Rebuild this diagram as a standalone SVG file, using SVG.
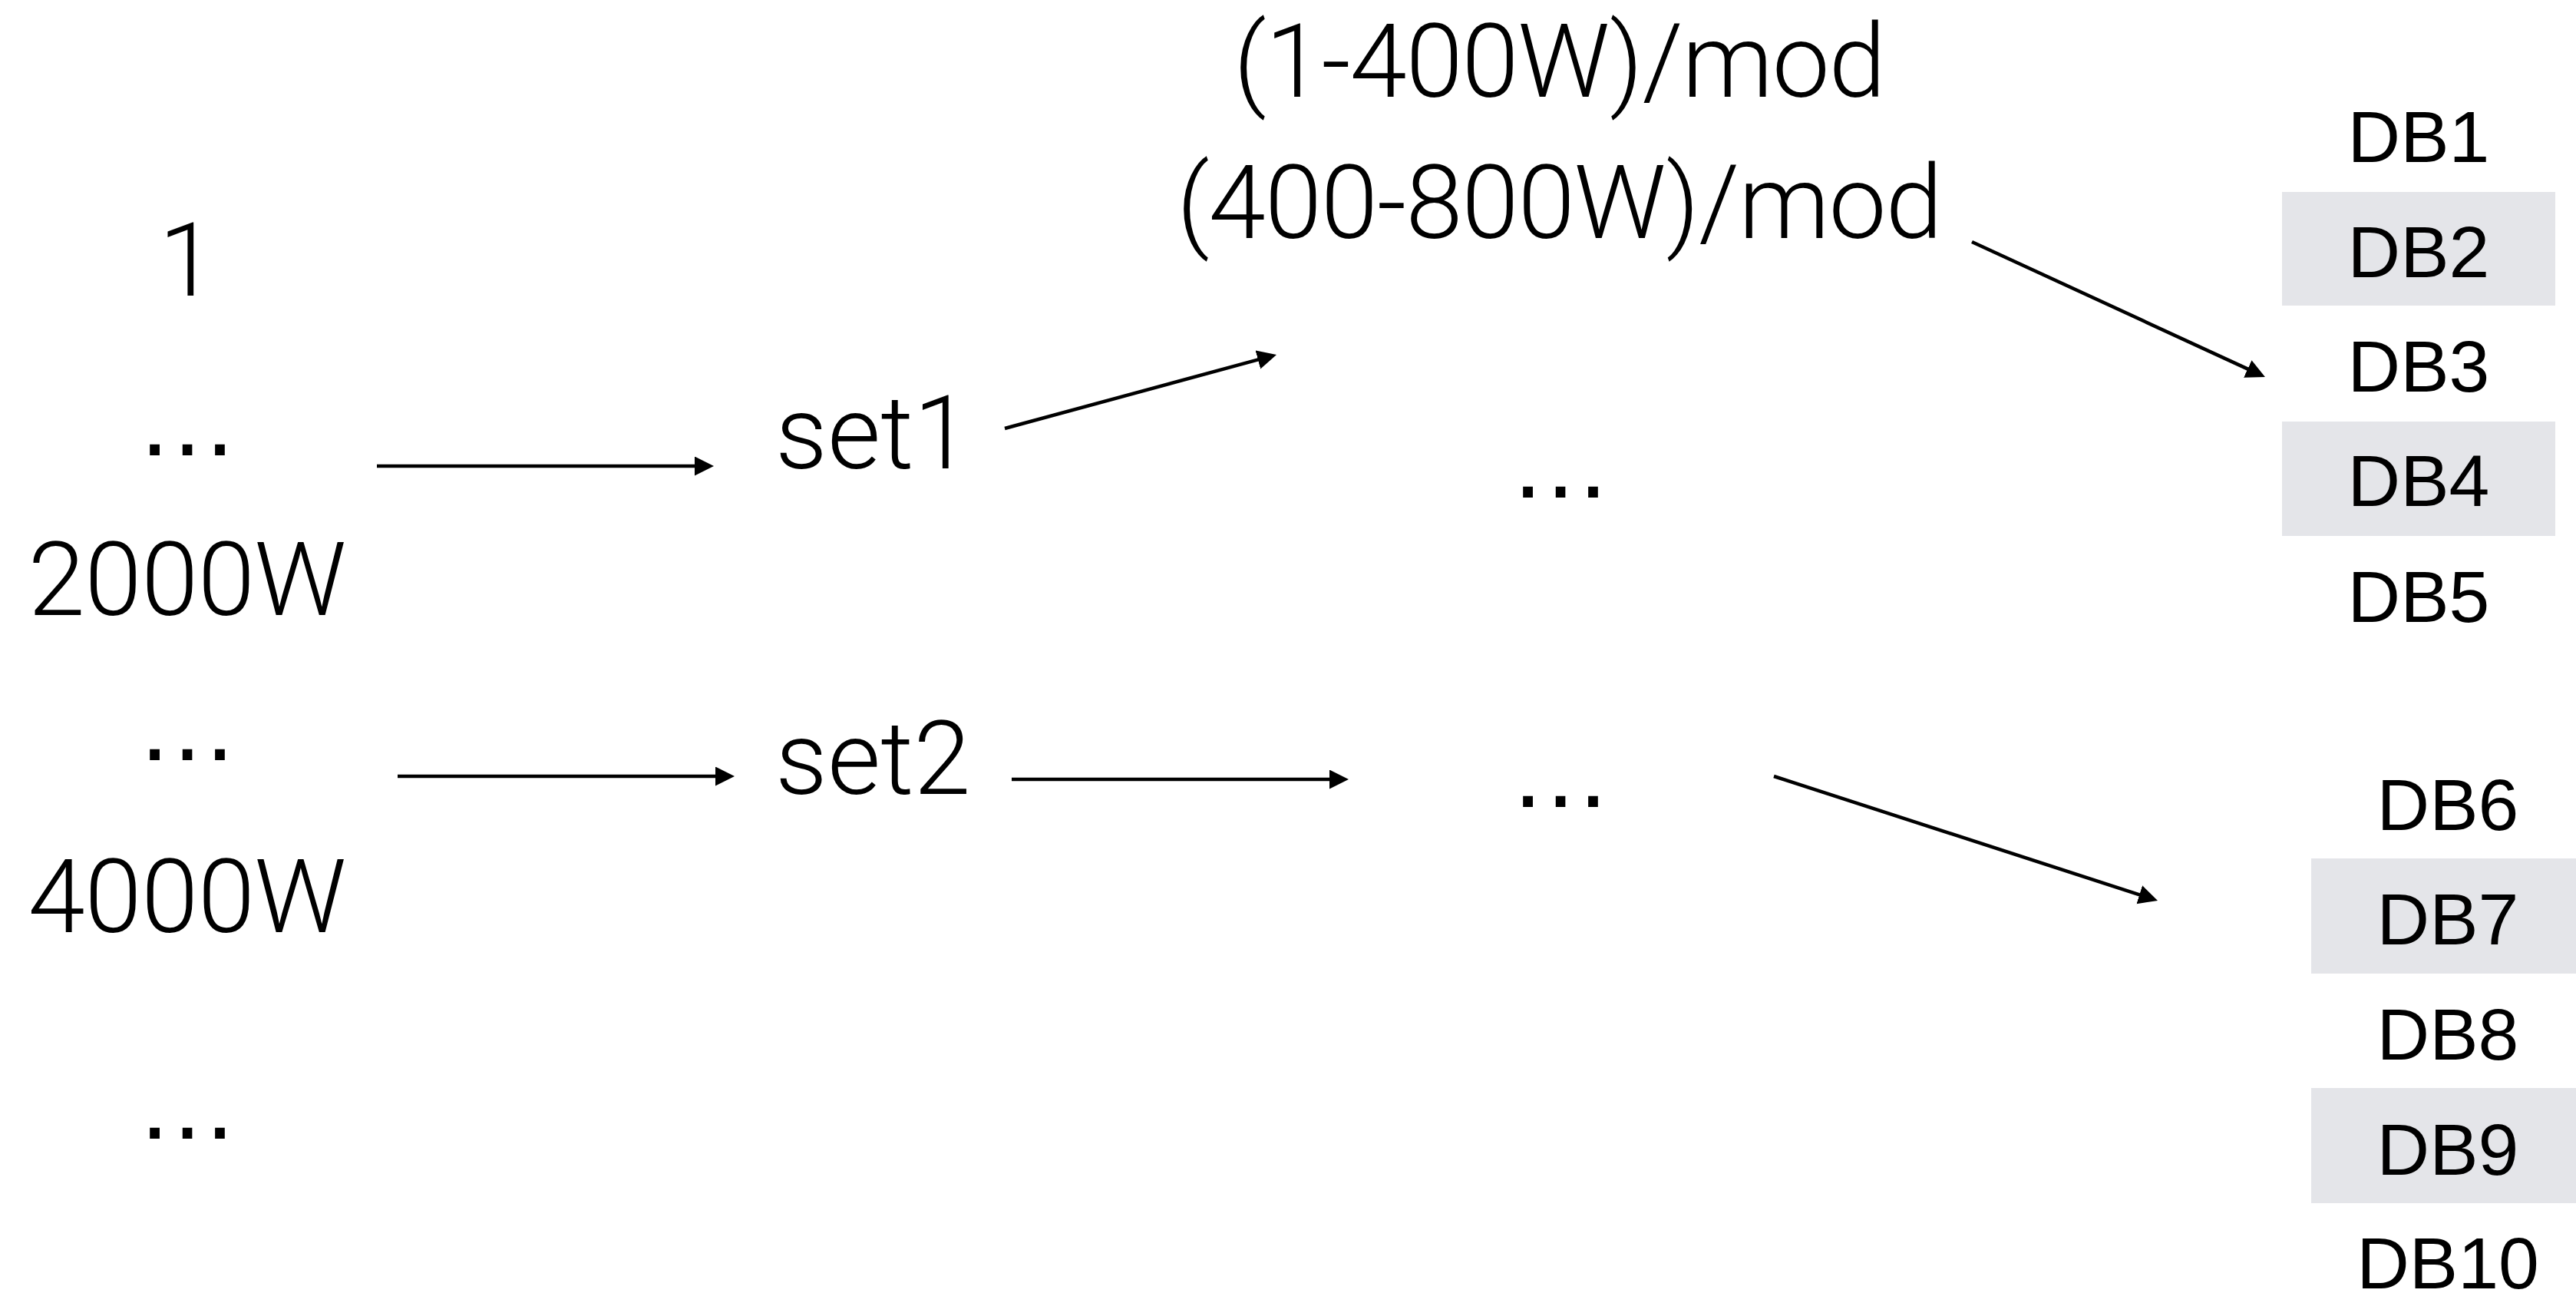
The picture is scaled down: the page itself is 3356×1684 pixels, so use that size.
<svg xmlns="http://www.w3.org/2000/svg" width="3356" height="1684" viewBox="0 0 3356 1684">
  <style>
    .lt { font-family: Roboto, "Liberation Sans", sans-serif; font-weight: 300; font-size: 134px; fill: #000; }
    .el { font-family: "Liberation Sans", Arial, sans-serif; font-size: 134px; fill: #000; text-anchor: middle; }
    .db { font-family: "Liberation Sans", Arial, sans-serif; font-size: 95px; fill: #000; text-anchor: middle; }
    .mid { text-anchor: middle; }
    .band { fill: #e4e5e9; }
    .conn { stroke: #000; stroke-width: 4.5; fill: none; marker-end: url(#arrow); }
  </style>
  <defs>
    <marker id="arrow" markerUnits="userSpaceOnUse" markerWidth="26" markerHeight="26" refX="5" refY="12.5" orient="auto">
      <path d="M0,0 L25,12.5 L0,25 z" fill="#000"/>
    </marker>
  </defs>
  <rect width="3356" height="1684" fill="#fff"/>

  <!-- left column: key ranges -->
  <g id="key-1"><text class="lt mid" x="244" y="385">1</text></g>
  <g id="key-gap-1"><text class="el" x="244" y="593">…</text></g>
  <g id="key-2000w"><text class="lt mid" x="244" y="801" textLength="415" lengthAdjust="spacing">2000W</text></g>
  <g id="key-gap-2"><text class="el" x="244" y="990">…</text></g>
  <g id="key-4000w"><text class="lt mid" x="244" y="1214" textLength="415" lengthAdjust="spacing">4000W</text></g>
  <g id="key-gap-3"><text class="el" x="244" y="1483">…</text></g>

  <!-- sets -->
  <g id="set1"><text class="lt" x="1010" y="610">set1</text></g>
  <g id="set2"><text class="lt" x="1010" y="1034">set2</text></g>

  <!-- middle column: sub ranges -->
  <g id="range-1-400w"><text class="lt mid" x="2032" y="126" textLength="850" lengthAdjust="spacing">(1-400W)/mod</text></g>
  <g id="range-400-800w"><text class="lt mid" x="2032" y="310" textLength="998" lengthAdjust="spacing">(400-800W)/mod</text></g>
  <g id="range-gap-1"><text class="el" x="2033" y="648">…</text></g>
  <g id="range-gap-2"><text class="el" x="2033" y="1051">…</text></g>

  <!-- database group A -->
  <g id="db-group-a">
    <rect class="band" x="2973" y="250" width="356" height="148"/>
    <rect class="band" x="2973" y="549" width="356" height="149"/>
  </g>
  <g id="db1"><text class="db" x="3151" y="211">DB1</text></g>
  <g id="db2"><text class="db" x="3151" y="361">DB2</text></g>
  <g id="db3"><text class="db" x="3151" y="510">DB3</text></g>
  <g id="db4"><text class="db" x="3151" y="659">DB4</text></g>
  <g id="db5"><text class="db" x="3151" y="810">DB5</text></g>

  <!-- database group B -->
  <g id="db-group-b">
    <rect class="band" x="3011" y="1118" width="356" height="150"/>
    <rect class="band" x="3011" y="1417" width="356" height="150"/>
  </g>
  <g id="db6"><text class="db" x="3189" y="1081">DB6</text></g>
  <g id="db7"><text class="db" x="3189" y="1230">DB7</text></g>
  <g id="db8"><text class="db" x="3189" y="1380">DB8</text></g>
  <g id="db9"><text class="db" x="3189" y="1530">DB9</text></g>
  <g id="db10"><text class="db" x="3189" y="1678">DB10</text></g>

  <!-- connectors -->
  <g id="connectors">
    <line class="conn" x1="491" y1="607" x2="910" y2="607"/>
    <line class="conn" x1="518" y1="1011" x2="937" y2="1011"/>
    <line class="conn" x1="1309" y1="558" x2="1643.7" y2="467.2"/>
    <line class="conn" x1="1318" y1="1015" x2="1737" y2="1015"/>
    <line class="conn" x1="2569" y1="315" x2="2932.8" y2="482.6"/>
    <line class="conn" x1="2311" y1="1011" x2="2792" y2="1166.8"/>
  </g>
</svg>
